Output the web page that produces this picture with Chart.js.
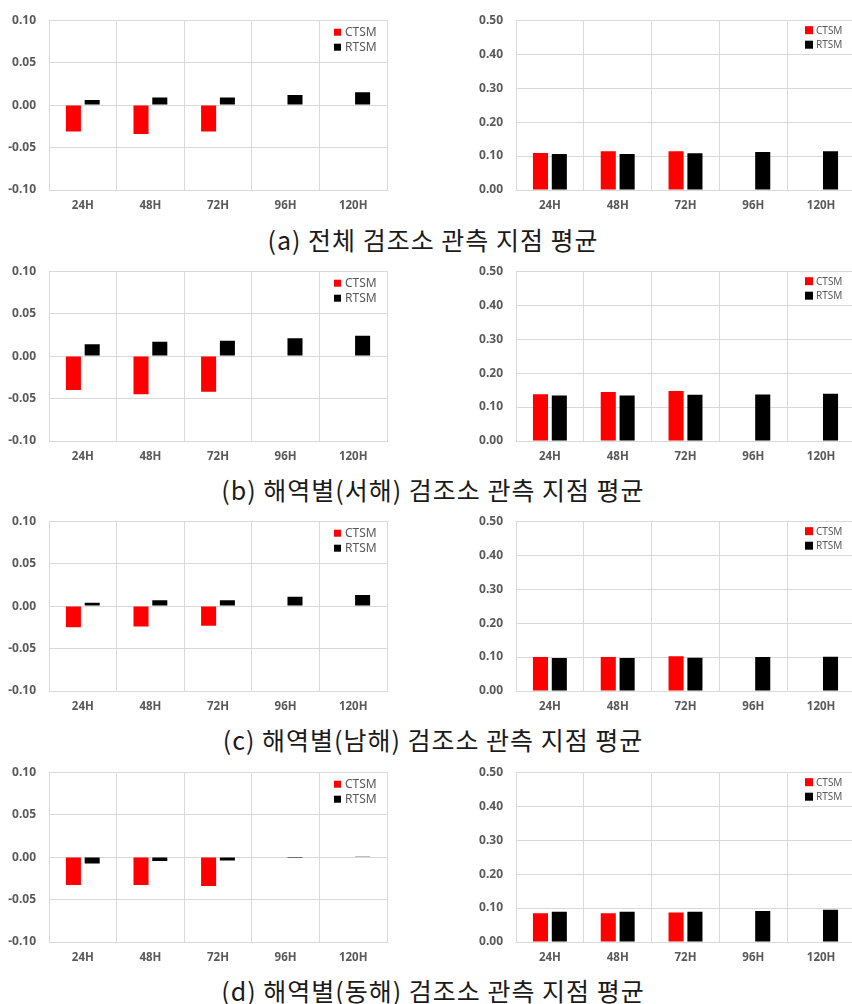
<!DOCTYPE html>
<html>
<head>
<meta charset="utf-8">
<script src="https://cdn.jsdelivr.net/npm/chart.js@4/dist/chart.umd.min.js"></script>
<style>
  html, body { margin: 0; padding: 0; background: #ffffff; overflow: hidden; }
  body { width: 852px; height: 1004px; position: relative; }
  .box { position: absolute; overflow: hidden; }
  .cap { position: absolute; left: 433px; transform: translate(-50%, -50%); white-space: nowrap;
         font-family: "Noto Sans CJK KR", "Noto Sans", sans-serif; font-size: 25px; letter-spacing: 1px; color: #1a1a1a; }
</style>
</head>
<body>
<script>
// ---- data ----
const categories = ['24H', '48H', '72H', '96H', '120H'];
const seriesNames = ['CTSM', 'RTSM'];
const seriesColors = ['#ff0000', '#000000'];

const captions = [
  '(a) 전체 검조소 관측 지점 평균',
  '(b) 해역별(서해) 검조소 관측 지점 평균',
  '(c) 해역별(남해) 검조소 관측 지점 평균',
  '(d) 해역별(동해) 검조소 관측 지점 평균'
];

// left panels (mean error)
const biasCTSM_a = [-0.031, -0.034, -0.031, null, null];
const biasRTSM_a = [0.006, 0.009, 0.009, 0.012, 0.015];
const biasCTSM_b = [-0.040, -0.045, -0.042, null, null];
const biasRTSM_b = [0.014, 0.017, 0.018, 0.021, 0.024];
const biasCTSM_c = [-0.025, -0.024, -0.023, null, null];
const biasRTSM_c = [0.004, 0.007, 0.007, 0.011, 0.013];
const biasCTSM_d = [-0.033, -0.033, -0.034, null, null];
const biasRTSM_d = [-0.0075, -0.0045, -0.004, -0.001, 0.001];

// right panels (error magnitude)
const rmseCTSM_a = [0.109, 0.114, 0.114, null, null];
const rmseRTSM_a = [0.106, 0.106, 0.108, 0.112, 0.114];
const rmseCTSM_b = [0.138, 0.144, 0.147, null, null];
const rmseRTSM_b = [0.134, 0.134, 0.136, 0.137, 0.139];
const rmseCTSM_c = [0.100, 0.100, 0.102, null, null];
const rmseRTSM_c = [0.097, 0.097, 0.098, 0.100, 0.101];
const rmseCTSM_d = [0.085, 0.085, 0.087, null, null];
const rmseRTSM_d = [0.089, 0.089, 0.089, 0.091, 0.095];

const leftTicks = { min: -0.10, max: 0.10, step: 0.05 };
const rightTicks = { min: 0.00, max: 0.50, step: 0.10 };

const leftSets = [[biasCTSM_a, biasRTSM_a], [biasCTSM_b, biasRTSM_b], [biasCTSM_c, biasRTSM_c], [biasCTSM_d, biasRTSM_d]];
const rightSets = [[rmseCTSM_a, rmseRTSM_a], [rmseCTSM_b, rmseRTSM_b], [rmseCTSM_c, rmseRTSM_c], [rmseCTSM_d, rmseRTSM_d]];

// ---- layout ----
const rowBottoms = [190, 441, 691, 942];
const captionY = [239, 489, 739, 990];
const GRID = '#d9d9d9';
const TICK = '#595959';

const legendPlugin = {
  id: 'cornerLegend',
  afterDraw(chart, args, opts) {
    const ctx = chart.ctx;
    const a = chart.chartArea;
    ctx.save();
    ctx.font = opts.font;
    ctx.textBaseline = 'middle';
    ctx.textAlign = 'left';
    chart.data.datasets.forEach((ds, i) => {
      const y = a.top + opts.y0 + i * opts.dy;
      const x = a.right - opts.dx;
      ctx.fillStyle = ds.backgroundColor;
      ctx.fillRect(x, y - opts.size / 2, opts.size, opts.size);
      ctx.fillStyle = TICK;
      ctx.fillText(ds.label, x + opts.size + opts.gap, y + 0.5);
    });
    ctx.restore();
  }
};

function makeChart(left, top, canvasW, boxW, axisW, padTop, padRight, values, t, legendOpts) {
  const box = document.createElement('div');
  box.className = 'box';
  box.style.left = left + 'px';
  box.style.top = top + 'px';
  box.style.width = boxW + 'px';
  box.style.height = '215px';
  const cv = document.createElement('canvas');
  cv.width = canvasW; cv.height = 215;
  cv.style.width = canvasW + 'px'; cv.style.height = '215px';
  box.appendChild(cv);
  document.body.appendChild(box);
  new Chart(cv, {
    type: 'bar',
    data: {
      labels: categories,
      datasets: values.map((v, i) => ({
        label: seriesNames[i], data: v, backgroundColor: seriesColors[i], borderWidth: 0,
        categoryPercentage: 0.556, barPercentage: 0.8
      }))
    },
    options: {
      responsive: false, animation: false, devicePixelRatio: 1,
      layout: { padding: { top: padTop, right: padRight, left: 0, bottom: 0 } },
      plugins: { legend: { display: false }, tooltip: { enabled: false }, cornerLegend: legendOpts },
      scales: {
        x: {
          grid: { color: GRID, lineWidth: 1, drawTicks: false, offset: true },
          border: { color: GRID },
          ticks: { color: TICK, font: { family: 'Noto Sans', size: 11.5, weight: 'bold' }, padding: 9, maxRotation: 0 },
          afterFit(s) { s.height = 25; }
        },
        y: {
          min: t.min, max: t.max,
          grid: { color: GRID, lineWidth: 1, drawTicks: false },
          border: { color: GRID },
          ticks: { stepSize: t.step, color: TICK, padding: 13,
                   font: { family: 'Noto Sans', size: 12, weight: 'bold' },
                   callback: v => Number(v).toFixed(2) },
          afterFit(s) { s.width = axisW; }
        }
      }
    },
    plugins: [legendPlugin]
  });
}

for (let r = 0; r < 4; r++) {
  const top = rowBottoms[r] - 190;
  makeChart(0, top, 426, 426, 49, 12, 39, leftSets[r], leftTicks,
    { font: '12px "Noto Sans"', dx: 53, y0: 12, dy: 15, size: 7, gap: 4 });
  makeChart(426, top, 429, 426, 90, 14, 0, rightSets[r], rightTicks,
    { font: '10px "Noto Sans"', dx: 50, y0: 10, dy: 14.5, size: 8, gap: 3 });
  const c = document.createElement('div');
  c.className = 'cap';
  c.style.top = captionY[r] + 'px';
  c.textContent = captions[r];
  document.body.appendChild(c);
}
</script>
</body>
</html>
